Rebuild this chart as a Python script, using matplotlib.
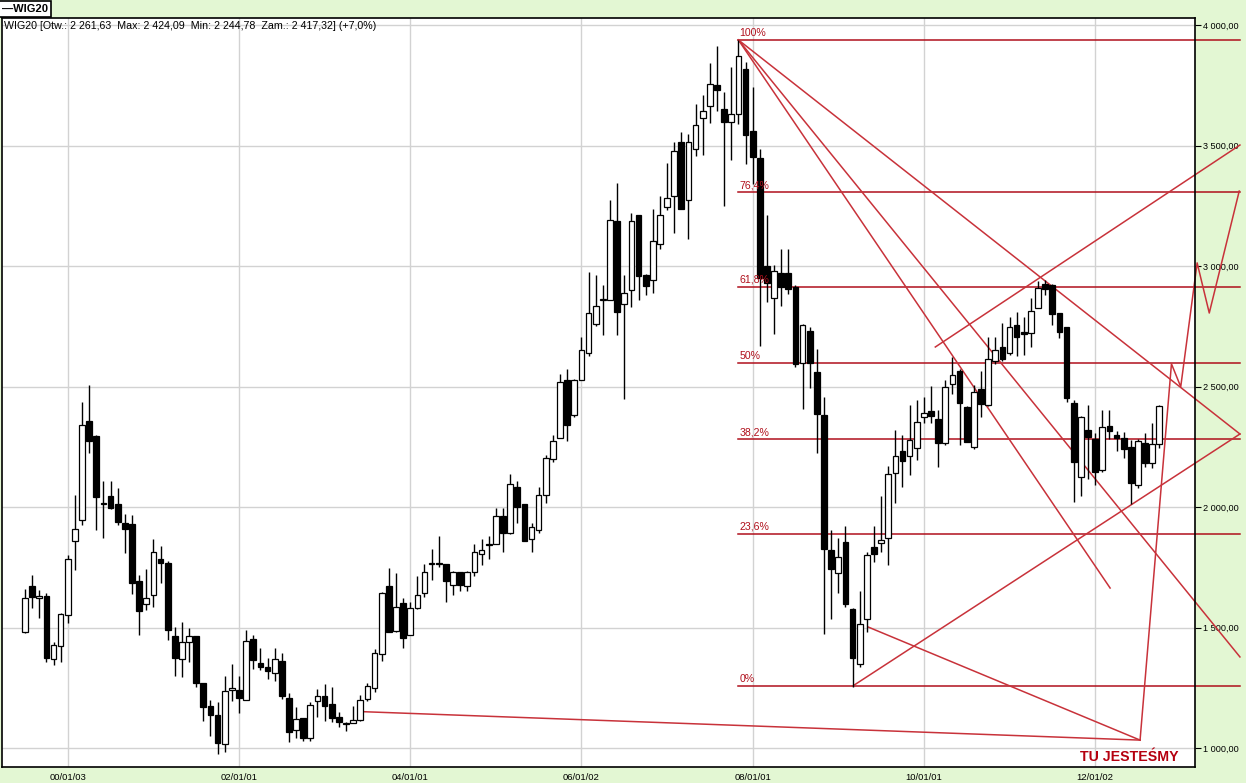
import matplotlib
matplotlib.use("Agg")
import matplotlib.pyplot as plt
from matplotlib import font_manager

# monthly candles, WIG20, from mid 1999 to late 2012
opens = [1482, 1674, 1623, 1629, 1369, 1424, 1553, 1860, 1947, 2359,
         2295, 2015, 2046, 2013, 1934, 1930, 1695, 1598, 1636, 1785,
         1768, 1466, 1370, 1441, 1466, 1271, 1175, 1138, 1017, 1241,
         1239, 1200, 1453, 1354, 1338, 1312, 1363, 1208, 1076, 1125,
         1041, 1196, 1217, 1181, 1130, 1105, 1105, 1116, 1203, 1250,
         1390, 1674, 1485, 1601, 1467, 1580, 1642, 1764, 1766, 1763,
         1678, 1729, 1671, 1729, 1805, 1845, 1846, 1963, 1891, 2084,
         2011, 1869, 1905, 2048, 2200, 2287, 2526, 2383, 2529, 2641,
         2761, 2858, 2861, 3185, 2844, 2902, 3210, 2964, 2941, 3090,
         3245, 3289, 3515, 3272, 3486, 3615, 3662, 3749, 3651, 3598,
         3631, 3818, 3562, 3450, 2998, 2866, 2969, 2969, 2913, 2596,
         2730, 2560, 2382, 1822, 1728, 1854, 1576, 1347, 1536, 1836,
         1849, 1870, 2140, 2234, 2212, 2244, 2372, 2400, 2364, 2264,
         2509, 2566, 2416, 2250, 2488, 2422, 2607, 2663, 2638, 2755,
         2728, 2721, 2824, 2925, 2920, 2806, 2748, 2433, 2126, 2320,
         2281, 2154, 2336, 2299, 2285, 2248, 2091, 2267, 2181, 2261.63]
highs = [1658, 1716, 1654, 1643, 1441, 1560, 1803, 2048, 2434, 2508,
         2300, 2110, 2110, 2077, 1972, 1969, 1716, 1744, 1868, 1839,
         1778, 1501, 1524, 1499, 1466, 1271, 1200, 1193, 1297, 1349,
         1301, 1488, 1471, 1416, 1373, 1414, 1395, 1228, 1172, 1125,
         1190, 1246, 1264, 1254, 1151, 1107, 1174, 1222, 1268, 1409,
         1649, 1747, 1726, 1623, 1605, 1715, 1763, 1825, 1880, 1765,
         1736, 1732, 1736, 1846, 1869, 1880, 1997, 1995, 2135, 2108,
         2011, 1933, 2084, 2214, 2300, 2551, 2572, 2530, 2706, 2975,
         2964, 2920, 3272, 3345, 2961, 3221, 3212, 2966, 3238, 3290,
         3428, 3515, 3555, 3548, 3673, 3710, 3842, 3914, 3721, 3827,
         3938, 3845, 3742, 3484, 3210, 3006, 3071, 3071, 2920, 2760,
         2746, 2657, 2455, 1905, 1870, 1921, 1580, 1652, 1815, 1921,
         2046, 2170, 2320, 2299, 2423, 2444, 2458, 2502, 2403, 2527,
         2621, 2571, 2420, 2506, 2566, 2704, 2704, 2762, 2787, 2811,
         2790, 2866, 2939, 2940, 2925, 2806, 2748, 2444, 2378, 2423,
         2306, 2403, 2403, 2317, 2313, 2278, 2281, 2306, 2350, 2424.09]
lows = [1478, 1582, 1540, 1355, 1344, 1355, 1518, 1737, 1927, 2223,
        1903, 1871, 1992, 1927, 1809, 1640, 1467, 1573, 1587, 1684,
        1449, 1301, 1294, 1356, 1255, 1111, 1049, 976, 983, 1197,
        1145, 1198, 1329, 1322, 1287, 1280, 1204, 1027, 1041, 1031,
        1031, 1128, 1114, 1109, 1089, 1071, 1102, 1114, 1195, 1233,
        1360, 1481, 1482, 1415, 1467, 1578, 1628, 1699, 1750, 1605,
        1637, 1650, 1650, 1715, 1759, 1784, 1846, 1812, 1889, 1933,
        1857, 1812, 1891, 2018, 2186, 2285, 2273, 2373, 2527, 2626,
        2750, 2713, 2858, 2713, 2450, 2830, 2861, 2879, 2890, 3069,
        3231, 3137, 3238, 3113, 3456, 3461, 3593, 3642, 3247, 3441,
        3590, 3424, 3341, 2669, 2850, 2716, 2835, 2882, 2580, 2405,
        2493, 2226, 1472, 1534, 1642, 1587, 1255, 1338, 1483, 1773,
        1815, 1760, 2018, 2085, 2133, 2195, 2347, 2347, 2165, 2257,
        2469, 2257, 2271, 2239, 2375, 2420, 2594, 2607, 2631, 2627,
        2631, 2665, 2824, 2880, 2755, 2700, 2437, 2019, 2046, 2115,
        2091, 2147, 2281, 2234, 2202, 2013, 2078, 2167, 2161, 2244.78]
closes = [1623, 1626, 1631, 1374, 1427, 1557, 1785, 1909, 2342, 2273,
          2041, 2012, 1997, 1937, 1909, 1684, 1568, 1622, 1814, 1767,
          1490, 1374, 1441, 1464, 1271, 1170, 1138, 1022, 1235, 1250,
          1207, 1445, 1366, 1336, 1319, 1370, 1215, 1066, 1120, 1041,
          1179, 1217, 1176, 1123, 1109, 1100, 1116, 1199, 1258, 1394,
          1642, 1481, 1587, 1456, 1580, 1637, 1732, 1768, 1762, 1694,
          1732, 1678, 1729, 1812, 1823, 1842, 1963, 1891, 2097, 2002,
          1860, 1919, 2052, 2204, 2276, 2517, 2340, 2526, 2653, 2803,
          2836, 2865, 3192, 2810, 2888, 3187, 2959, 2917, 3104, 3213,
          3283, 3479, 3238, 3515, 3586, 3645, 3755, 3731, 3598, 3631,
          3872, 3544, 3452, 2950, 2928, 2981, 2913, 2905, 2595, 2754,
          2599, 2385, 1825, 1742, 1791, 1596, 1372, 1513, 1801, 1805,
          1863, 2136, 2213, 2192, 2277, 2351, 2389, 2379, 2264, 2499,
          2546, 2433, 2271, 2476, 2428, 2613, 2652, 2613, 2746, 2707,
          2718, 2815, 2907, 2905, 2800, 2725, 2451, 2188, 2372, 2289,
          2144, 2331, 2317, 2285, 2239, 2098, 2275, 2184, 2262, 2417.32]

tick_months = [6, 30, 54, 78, 102, 126, 150]
tick_labels = ["00/01/03", "02/01/01", "04/01/01", "06/01/02",
               "08/01/01", "10/01/01", "12/01/02"]

# fibonacci retracement between the 2007 top and the 2009 bottom
fib_high = 3938
fib_low = 1257
fib_levels = [1.0, 0.764, 0.618, 0.5, 0.382, 0.236, 0.0]
fib_labels = ["100%", "76,4%", "61,8%", "50%", "38,2%", "23,6%", "0%"]
fib_start = 100
fib_end = 170.3

# hand drawn trend lines (month index, price)
fan_a = [(100, 3938), (170.3, 1378)]
fan_b = [(100, 3938), (152.1, 1664)]
fan_c = [(100, 3938), (170.3, 2303)]
channel_low = [(116, 1257), (170.3, 2303)]
channel_high = [(127.6, 2664), (170.3, 3502)]
line_from_low = [(118.2, 1502), (156.3, 1033)]
line_long = [(47.3, 1151), (156.3, 1033)]
zigzag = [(156.3, 1033), (160.7, 2594), (162.0, 2499), (164.3, 3013),
          (166.0, 2805), (170.2, 3311)]

names = {f.name for f in font_manager.fontManager.ttflist}
narrow = "Liberation Sans Narrow" if "Liberation Sans Narrow" in names else "Liberation Sans"
plain = "Liberation Sans" if "Liberation Sans" in names else "DejaVu Sans"

green = "#e3f7d3"
fib_color = "#b0101c"
line_color = "#c8323a"

fig = plt.figure(figsize=(12.46, 7.83), dpi=100, facecolor=green)
ax = fig.add_axes([2 / 1246, 1 - 767 / 783, 1193 / 1246, 749 / 783])
ax.set_facecolor("white")

n = len(closes)
months = list(range(n))
for i in months:
    o, h, l, c = opens[i], highs[i], lows[i], closes[i]
    ax.vlines(i, l, h, color="black", linewidth=1.0, zorder=3)
    face = "white" if c >= o else "black"
    body = max(abs(c - o), 4)
    ax.bar(i, body, bottom=min(o, c), width=0.8, color=face,
           edgecolor="black", linewidth=0.9, zorder=4)

rng = fib_high - fib_low
for lev, lab in zip(fib_levels, fib_labels):
    p = fib_low + lev * rng
    ax.plot([fib_start, fib_end], [p, p], color=fib_color, linewidth=1.1,
            clip_on=False, zorder=2)
    ax.text(fib_start + 0.15, p + 8, lab, color=fib_color, fontsize=7.6,
            family=plain, ha="left", va="bottom", zorder=5)

for seg in [fan_a, fan_b, fan_c, channel_low, channel_high,
            line_from_low, line_long, zigzag]:
    xs = [pt[0] for pt in seg]
    ys = [pt[1] for pt in seg]
    ax.plot(xs, ys, color=line_color, linewidth=1.1, clip_on=False, zorder=2)

ax.text(154.8, 963, "TU JESTEŚMY", color="#b5000f", fontsize=10.2,
        fontweight="bold", family=[narrow, "DejaVu Sans"], ha="center",
        va="center", zorder=5)

ax.set_xlim(-3.22, 164.0)
ax.set_ylim(921.4, 4029)

ax.yaxis.tick_right()
yt = [1000, 1500, 2000, 2500, 3000, 3500, 4000]
ax.set_yticks(yt)
ax.set_yticklabels([f"{v:,.2f}".replace(",", " ").replace(".", ",") for v in yt],
                   family=plain, fontsize=6.6)
ax.set_xticks(tick_months)
ax.set_xticklabels(tick_labels, family=plain, fontsize=6.8)
ax.tick_params(axis="y", length=4, width=0.8, pad=2)
ax.tick_params(axis="x", length=0, pad=4)
ax.grid(True, color="#d2d2d2", linewidth=1.0, zorder=0)
ax.set_axisbelow(True)
for sp in ax.spines.values():
    sp.set_color("black")
    sp.set_linewidth(1.2)

ax.text(0.002, 0.996,
        "WIG20 [Otw.: 2 261,63  Max: 2 424,09  Min: 2 244,78  Zam.: 2 417,32] (+7,0%)",
        transform=ax.transAxes, ha="left", va="top", fontsize=7.7,
        family=plain, zorder=6)

fig.text(2 / 1246, 1 - 9 / 783, "\u2014WIG20", ha="left", va="center",
         fontsize=8, fontweight="bold", family=plain,
         bbox=dict(boxstyle="square,pad=0.25", fc="white", ec="black", lw=1.2))

fig.savefig("out.png", dpi=100, facecolor=green)
